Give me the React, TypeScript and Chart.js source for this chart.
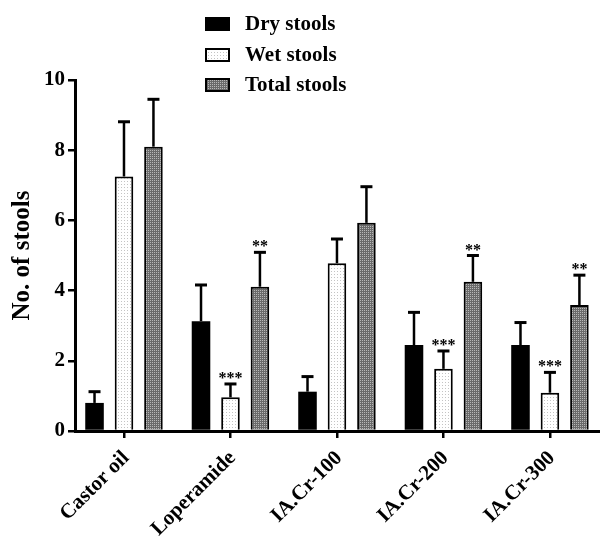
import React, { useEffect, useRef } from 'react';
import { Chart, registerables } from 'chart.js';

Chart.register(...registerables);

const categories = ['Castor oil', 'Loperamide', 'IA.Cr-100', 'IA.Cr-200', 'IA.Cr-300'];
const seriesNames = ['Dry stools', 'Wet stools', 'Total stools'];
const dryValues = [0.8, 3.13, 1.12, 2.45, 2.45];
const dryErrors = [0.32, 1.03, 0.43, 0.93, 0.64];
const wetValues = [7.25, 0.96, 4.78, 1.77, 1.09];
const wetErrors = [1.56, 0.38, 0.69, 0.51, 0.58];
const totalValues = [8.1, 4.11, 5.93, 4.25, 3.59];
const totalErrors = [1.35, 0.98, 1.03, 0.75, 0.85];
const dryStars = ['', '', '', '', ''];
const wetStars = ['', '***', '', '***', '***'];
const totalStars = ['', '**', '', '**', '**'];
const yTickValues = [0, 2, 4, 6, 8, 10];

const FONT = '"Liberation Serif", "Times New Roman", serif';

function makePattern(size: number, bg: string, dot: string, dots: number[][]) {
  const c = document.createElement('canvas');
  c.width = size;
  c.height = size;
  const g = c.getContext('2d')!;
  g.fillStyle = bg;
  g.fillRect(0, 0, size, size);
  g.fillStyle = dot;
  dots.forEach(([x, y]) => g.fillRect(x, y, 1, 1));
  return g.createPattern(c, 'repeat');
}

export default function App() {
  const ref = useRef<HTMLCanvasElement | null>(null);

  useEffect(() => {
    document.body.style.margin = '0';
    const canvas = ref.current!;
    const wetPattern = makePattern(3, '#ffffff', '#c4c4c4', [[1, 1]]);
    const totalPattern = makePattern(2, '#6a6a6a', '#b8b8b8', [[0, 0]]);

    const valueSets = [dryValues, wetValues, totalValues];
    const errorSets = [dryErrors, wetErrors, totalErrors];
    const starSets = [dryStars, wetStars, totalStars];
    const fills: any[] = ['#000000', wetPattern, totalPattern];

    const errorBarPlugin = {
      id: 'errorBars',
      afterDatasetsDraw(chart: any) {
        const ctx = chart.ctx;
        const yScale = chart.scales.y;
        chart.data.datasets.forEach((ds: any, di: number) => {
          const meta = chart.getDatasetMeta(di);
          meta.data.forEach((bar: any, i: number) => {
            const v = valueSets[di][i];
            const top = yScale.getPixelForValue(v + errorSets[di][i]);
            ctx.save();
            ctx.strokeStyle = '#000';
            ctx.lineWidth = 2.5;
            ctx.beginPath();
            ctx.moveTo(bar.x, bar.y);
            ctx.lineTo(bar.x, top);
            ctx.stroke();
            ctx.lineWidth = 3;
            ctx.beginPath();
            ctx.moveTo(bar.x - 6, top);
            ctx.lineTo(bar.x + 6, top);
            ctx.stroke();
            const s = starSets[di][i];
            if (s) {
              ctx.fillStyle = '#000';
              ctx.font = `bold 16px ${FONT}`;
              ctx.textAlign = 'center';
              ctx.textBaseline = 'alphabetic';
              ctx.fillText(s, bar.x, top - 1);
            }
            ctx.restore();
          });
        });
      },
    };

    const legendPlugin = {
      id: 'customLegend',
      afterDraw(chart: any) {
        const ctx = chart.ctx;
        const rows = [24, 55, 85];
        chart.data.datasets.forEach((ds: any, di: number) => {
          const cy = rows[di];
          ctx.save();
          ctx.fillStyle = ds.backgroundColor;
          ctx.fillRect(205, cy - 7, 25, 14);
          ctx.strokeStyle = '#000';
          ctx.lineWidth = 2;
          ctx.strokeRect(206, cy - 6, 23, 12);
          ctx.fillStyle = '#000';
          ctx.font = `bold 21px ${FONT}`;
          ctx.textAlign = 'left';
          ctx.textBaseline = 'middle';
          ctx.fillText(ds.label, 245, cy + 1);
          ctx.restore();
        });
      },
    };

    const chart = new Chart(canvas, {
      type: 'bar',
      data: {
        datasets: seriesNames.map((name, di) => ({
          label: name,
          data: valueSets[di].map((v, i) => ({ x: i, y: v })),
          backgroundColor: fills[di],
          borderColor: '#000000',
          borderWidth: di === 0 ? 0 : 2,
          categoryPercentage: 0.83,
          barPercentage: 0.63,
        })),
      },
      options: {
        animation: false,
        responsive: false,
        layout: { padding: { top: 80, left: 0, right: 0, bottom: 0 } },
        plugins: { legend: { display: false }, tooltip: { enabled: false } },
        scales: {
          x: {
            type: 'linear',
            min: -0.46,
            max: 4.47,
            offset: false,
            afterBuildTicks: (s: any) => {
              s.ticks = categories.map((_, i) => ({ value: i }));
            },
            afterFit: (s: any) => {
              s.height = 111;
            },
            ticks: {
              callback: (v: any) => categories[v] ?? '',
              minRotation: 45,
              maxRotation: 45,
              autoSkip: false,
              color: '#000',
              padding: 8,
              labelOffset: 2,
              font: { family: FONT, size: 21, weight: 'bold' },
            },
            grid: {
              display: true,
              offset: false,
              drawOnChartArea: false,
              drawTicks: true,
              tickLength: 7,
              color: '#000',
              lineWidth: 2.5,
            },
            border: { display: true, color: '#000', width: 3 },
          },
          y: {
            min: 0,
            max: 10,
            afterBuildTicks: (s: any) => {
              s.ticks = yTickValues.map((v) => ({ value: v }));
            },
            afterFit: (s: any) => {
              s.width = 75;
            },
            ticks: {
              color: '#000',
              padding: 3,
              font: { family: FONT, size: 21, weight: 'bold' },
            },
            grid: {
              display: true,
              drawOnChartArea: false,
              drawTicks: true,
              tickLength: 7,
              color: '#000',
              lineWidth: 2.5,
            },
            border: { display: true, color: '#000', width: 3 },
            title: {
              display: true,
              text: 'No. of stools',
              color: '#000',
              padding: { top: 8, bottom: 0 },
              font: { family: FONT, size: 25, weight: 'bold' },
            },
          },
        },
      } as any,
      plugins: [errorBarPlugin, legendPlugin],
    });
    return () => chart.destroy();
  }, []);

  return (
    <div style={{ width: 600, height: 542 }}>
      <canvas ref={ref} width={600} height={542} style={{ display: 'block' }} />
    </div>
  );
}
